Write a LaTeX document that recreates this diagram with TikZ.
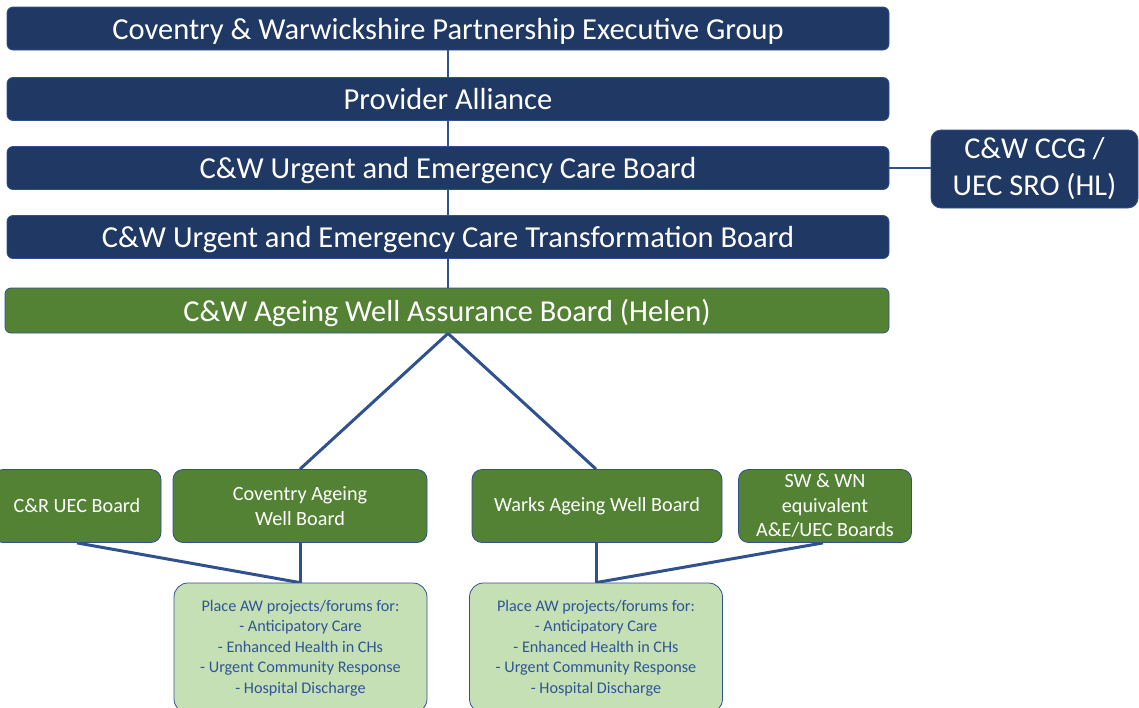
\documentclass[tikz,border=0pt]{standalone}
\usepackage{fontspec}
\setmainfont{Carlito}
\usetikzlibrary{backgrounds}
\definecolor{navy}{HTML}{203864}
\definecolor{edge}{HTML}{2F528F}
\definecolor{grn}{HTML}{548235}
\definecolor{lgrn}{HTML}{C5E0B4}
\definecolor{ltxt}{HTML}{2F5597}
\definecolor{conn}{HTML}{2F528F}
\tikzset{
  topbox/.style={draw=edge, line width=0.8pt, fill=navy, text=white, rounded corners=6pt,
    minimum width=882pt, minimum height=43pt, inner sep=0pt, text height=21.5pt, text depth=0pt,
    font=\fontsize{30.5}{33}\selectfont},
  aw/.style={draw=edge, line width=0.8pt, fill=grn, text=white, rounded corners=6pt,
    minimum width=884pt, minimum height=45pt, inner sep=0pt, text height=21.5pt, text depth=0pt,
    font=\fontsize{30.4}{33}\selectfont},
  ccg/.style={draw=edge, line width=0.8pt, fill=navy, text=white, rounded corners=10pt,
    minimum width=207pt, minimum height=78pt, inner sep=0pt, align=center, font=\fontsize{30.3}{37}\selectfont},
  gbox/.style={draw=edge, line width=0.8pt, fill=grn, text=white, rounded corners=10pt,
    minimum height=73pt, inner sep=0pt, align=center, font=\fontsize{20.2}{24.5}\selectfont},
  lbox/.style={draw=edge, line width=0.8pt, fill=lgrn, text=ltxt, rounded corners=14pt,
    minimum width=253pt, minimum height=130pt, inner sep=0pt, align=center, font=\fontsize{16.2}{20.5}\selectfont},
  thin/.style={draw=conn, line width=2pt},
  thick/.style={draw=conn, line width=3pt}
}
\begin{document}
\begin{tikzpicture}[x=1pt, y=-1pt]
\useasboundingbox (0,0) rectangle (1139,707);
\clip (0,0) rectangle (1139,707);
\node[topbox] (peg) at (448,28.5) {Coventry \& Warwickshire Partnership Executive Group};
\node[topbox] (pa) at (448,99) {Provider Alliance};
\node[topbox] (uec) at (448,168) {C\&W Urgent and Emergency Care Board};
\node[topbox] (uect) at (448,237) {C\&W Urgent and Emergency Care Transformation Board};
\node[aw] (awab) at (447,310.5) {C\&W Ageing Well Assurance Board (Helen)};
\node[ccg] (ccg) at (1034.5,169) {C\&W CCG /\\UEC SRO (HL)};
\node[gbox, minimum width=168pt] (cr) at (77,506) {C\&R UEC Board};
\node[gbox, minimum width=254pt] (cov) at (300,506) {Coventry Ageing\\Well Board};
\node[gbox, minimum width=250pt] (wk) at (597,506) {Warks Ageing Well Board};
\node[gbox, minimum width=173pt] (sw) at (825,506) {SW \& WN\\equivalent\\A\&E/UEC Boards};
\node[lbox] (pc) at (300.5,648) {Place AW projects/forums for:\\- Anticipatory Care\\- Enhanced Health in CHs\\- Urgent Community Response\\- Hospital Discharge};
\node[lbox] (pw) at (596,648) {Place AW projects/forums for:\\- Anticipatory Care\\- Enhanced Health in CHs\\- Urgent Community Response\\- Hospital Discharge};
\begin{scope}[on background layer]
\draw[thin] (peg.south) -- (pa.north);
\draw[thin] (pa.south) -- (uec.north);
\draw[thin] (uec.south) -- (uect.north);
\draw[thin] (uect.south) -- (awab.north -| uect.south);
\draw[thin] (uec.east) -- (ccg.west |- uec.east);
\draw[thick] (awab.south -| uect.south) -- (cov.north);
\draw[thick] (awab.south -| uect.south) -- (wk.north -| 596,0);
\draw[thick] (cr.south) -- (pc.north -| cov.south);
\draw[thick] (cov.south) -- (pc.north -| cov.south);
\draw[thick] (wk.south -| 596,0) -- (pw.north);
\draw[thick] (sw.south -| 823,0) -- (pw.north);
\end{scope}
\end{tikzpicture}
\end{document}
